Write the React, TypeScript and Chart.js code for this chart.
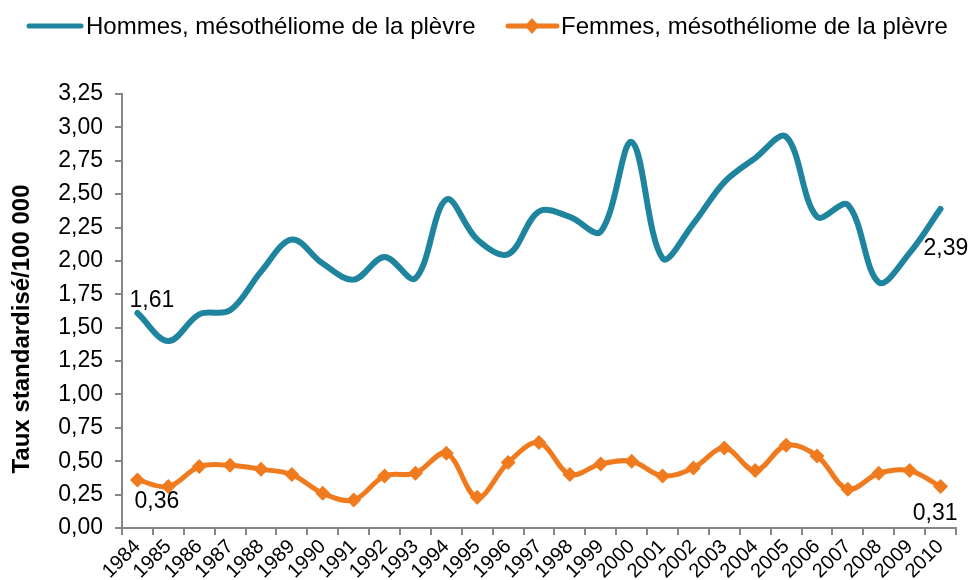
import React, { useEffect, useRef } from 'react';
import { Chart, registerables } from 'chart.js';

Chart.register(...registerables);

const years = ['1984', '1985', '1986', '1987', '1988', '1989', '1990', '1991', '1992', '1993', '1994', '1995', '1996', '1997', '1998', '1999', '2000', '2001', '2002', '2003', '2004', '2005', '2006', '2007', '2008', '2009', '2010'];
const hommes = [1.61, 1.40, 1.60, 1.63, 1.92, 2.16, 1.98, 1.86, 2.03, 1.87, 2.46, 2.16, 2.05, 2.37, 2.33, 2.22, 2.89, 2.02, 2.28, 2.59, 2.77, 2.93, 2.33, 2.42, 1.84, 2.06, 2.39];
const femmes = [0.36, 0.31, 0.46, 0.47, 0.44, 0.40, 0.26, 0.21, 0.39, 0.41, 0.56, 0.23, 0.49, 0.64, 0.40, 0.48, 0.50, 0.39, 0.45, 0.60, 0.43, 0.62, 0.54, 0.29, 0.41, 0.43, 0.31];
const seriesNames = ['Hommes, mésothéliome de la plèvre', 'Femmes, mésothéliome de la plèvre'];
const yTitle = 'Taux standardisé/100 000';
const yMin = 0;
const yMax = 3.25;
const yStep = 0.25;

const TEAL = '#1F849D';
const ORANGE = '#F07A1E';
const AXIS = '#868686';
const FONT = '"Liberation Sans", Arial, sans-serif';

const fmt = (v: number) => v.toFixed(2).replace('.', ',');

const labelPlugin = {
  id: 'endLabels',
  afterDatasetsDraw(chart: any) {
    const ctx = chart.ctx;
    ctx.save();
    ctx.font = `23px ${FONT}`;
    ctx.fillStyle = '#000';
    ctx.textBaseline = 'alphabetic';
    const m0 = chart.getDatasetMeta(0).data;
    const m1 = chart.getDatasetMeta(1).data;
    const last = years.length - 1;
    ctx.textAlign = 'left';
    ctx.fillText(fmt(hommes[0]), m0[0].x - 8, m0[0].y - 6);
    ctx.fillText(fmt(hommes[last]), m0[last].x - 17, m0[last].y + 46);
    ctx.fillText(fmt(femmes[0]), m1[0].x - 3, m1[0].y + 28);
    ctx.textAlign = 'right';
    ctx.fillText(fmt(femmes[last]), m1[last].x + 17, m1[last].y + 33);
    ctx.restore();
  },
  afterDraw(chart: any) {
    const ctx = chart.ctx;
    ctx.save();
    // y-axis title
    const area = chart.chartArea;
    ctx.save();
    ctx.translate(22, (area.top + area.bottom) / 2 + 18);
    ctx.rotate(-Math.PI / 2);
    ctx.font = `bold 24px ${FONT}`;
    ctx.fillStyle = '#000';
    ctx.textAlign = 'center';
    ctx.textBaseline = 'middle';
    ctx.fillText(yTitle, 0, 0);
    ctx.restore();
    // legend
    const y = 26;
    ctx.lineCap = 'round';
    ctx.lineWidth = 5;
    ctx.strokeStyle = TEAL;
    ctx.beginPath();
    ctx.moveTo(29, y);
    ctx.lineTo(81, y);
    ctx.stroke();
    ctx.font = `24px ${FONT}`;
    ctx.fillStyle = '#000';
    ctx.textAlign = 'left';
    ctx.textBaseline = 'middle';
    ctx.fillText(seriesNames[0], 86, y + 1);
    ctx.strokeStyle = ORANGE;
    ctx.beginPath();
    ctx.moveTo(508, y);
    ctx.lineTo(557, y);
    ctx.stroke();
    ctx.fillStyle = ORANGE;
    ctx.beginPath();
    ctx.moveTo(532, y - 8);
    ctx.lineTo(539, y);
    ctx.lineTo(532, y + 8);
    ctx.lineTo(525, y);
    ctx.closePath();
    ctx.fill();
    ctx.fillStyle = '#000';
    ctx.fillText(seriesNames[1], 561, y + 1);
    ctx.restore();
  },
};

export default function App() {
  const ref = useRef<HTMLCanvasElement | null>(null);
  useEffect(() => {
    if (!ref.current) return;
    const chart = new Chart(ref.current, {
      type: 'line',
      data: {
        labels: years,
        datasets: [
          {
            label: seriesNames[0],
            data: hommes,
            borderColor: TEAL,
            backgroundColor: TEAL,
            borderWidth: 6,
            pointRadius: 0,
            tension: 0.35,
            borderCapStyle: 'round',
          },
          {
            label: seriesNames[1],
            data: femmes,
            borderColor: ORANGE,
            backgroundColor: ORANGE,
            borderWidth: 5,
            pointStyle: 'rectRot',
            pointRadius: 7.5,
            pointBorderWidth: 0,
            tension: 0.35,
            borderCapStyle: 'round',
          },
        ],
      },
      options: {
        animation: false,
        responsive: true,
        maintainAspectRatio: false,
        layout: { padding: { top: 94, left: 8, right: 16, bottom: 0 } },
        plugins: { legend: { display: false }, tooltip: { enabled: false } },
        scales: {
          x: {
            type: 'category',
            offset: true,
            grid: { display: true, drawOnChartArea: false, offset: true, tickLength: 7, color: AXIS, lineWidth: 2 },
            border: { display: true, color: AXIS, width: 2 },
            ticks: { minRotation: 45, maxRotation: 45, autoSkip: false, color: '#000', font: { family: FONT, size: 20 }, padding: 0 },
            afterFit: (s: any) => { s.height = 52; },
          },
          y: {
            min: yMin,
            max: yMax,
            grid: { display: true, drawOnChartArea: false, tickLength: 7, color: AXIS, lineWidth: 2 },
            border: { display: true, color: AXIS, width: 2 },
            ticks: { stepSize: yStep, color: '#000', font: { family: FONT, size: 23 }, padding: 12, callback: (v: any) => fmt(Number(v)) },
            afterFit: (s: any) => { s.width = 114; },
          },
        },
      },
      plugins: [labelPlugin],
    });
    return () => chart.destroy();
  }, []);
  return (
    <div style={{ position: 'fixed', left: 0, top: 0, width: 972, height: 580 }}>
      <canvas ref={ref} />
    </div>
  );
}
